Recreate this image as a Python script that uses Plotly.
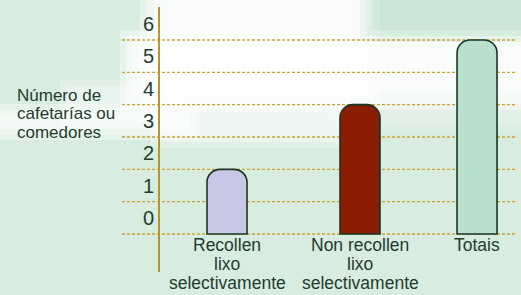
import plotly.graph_objects as go

# ---- data ----
categories = ["Recollen<br>lixo<br>selectivamente",
              "Non recollen<br>lixo<br>selectivamente",
              "Totais"]
values = [2, 4, 6]
bar_colors = ["#C8C8E6", "#8A1C02", "#B8E0CC"]
y_ticks = [0, 1, 2, 3, 4, 5, 6]
y_tick_labels = ["0", "1", "2", "3", "4", "5", "6"]
y_title = "Número de<br>cafetarías ou<br>comedores"

# ---- layout constants ----
W, H = 521, 295
L, R, T, B = 160, 4, 7, 23
PW, PH = W - L - R, H - T - B
slot = [0, 1.0, 1.88]          # horizontal slot of each bar (uneven spacing as in original)
unit = 133.0                   # px per slot unit
x_range = [-67 / unit, (PW - 67) / unit]
y_range = [-1.175, 7.02]

TXT = "#1F3D2E"
GOLD = "#C9A238"
FONT = "Liberation Sans, Arial, sans-serif"


def px(x):
    return (x - L) / PW


def py(y):
    return (H - B - y) / PH


fig = go.Figure()
fig.add_trace(go.Bar(
    x=slot, y=values,
    width=40 / unit,
    marker=dict(color=bar_colors, line=dict(color="#173626", width=1.6),
                cornerradius=13),
    hoverinfo="skip",
))

shapes = []


def soft(x0, y0, x1, y1, op, steps=4, inset=8, color="white"):
    for k in range(steps):
        d = inset * k
        shapes.append(dict(type="rect", xref="paper", yref="paper",
                           x0=px(x0 + d), x1=px(x1 - d), y0=py(y1 - d), y1=py(y0 + d),
                           fillcolor=color, opacity=op, line=dict(width=0),
                           layer="below"))


# background clouds
soft(140, -30, 380, 112, 0.4, steps=4, inset=7)      # top-centre white
soft(120, 30, 560, 110, 0.4, steps=4, inset=6)       # white band
soft(-40, 104, 200, 140, 0.3, steps=3, inset=5)      # left streak
soft(60, 80, 190, 128, 0.25, steps=2, inset=6)
soft(150, 96, 350, 148, 0.25, steps=3, inset=6)      # fade under band
soft(330, 96, 560, 130, 0.15, steps=2, inset=5)
soft(360, -20, 560, 42, 0.2, steps=3, inset=6, color="#BFE0CD")  # green cloud top right

# dotted grid lines, extending left past the axis line
for v in y_ticks:
    shapes.append(dict(type="line", xref="paper", yref="y",
                       x0=px(122), x1=px(517), y0=v, y1=v,
                       line=dict(color=GOLD, width=1.3, dash="3px,2px"),
                       layer="below"))

annotations = []
# y-axis title, one annotation per line
for j, line in enumerate(y_title.split("<br>")):
    annotations.append(dict(text=line, xref="paper", yref="paper",
                            x=px(15), y=py(95 + 18.5 * j), xanchor="left",
                            yanchor="middle", showarrow=False,
                            font=dict(size=17, color=TXT, family=FONT)))
# category labels under the baseline, one annotation per line
for xi, cat in zip(slot, categories):
    for j, line in enumerate(cat.split("<br>")):
        annotations.append(dict(text=line, xref="x", yref="y", x=xi, y=0,
                                yshift=-(11 + 19 * j), xanchor="center",
                                yanchor="middle", showarrow=False,
                                font=dict(size=17.5, color=TXT, family=FONT)))

fig.update_layout(
    width=W, height=H,
    margin=dict(l=L, r=R, t=T, b=B),
    paper_bgcolor="#D9ECE0",
    plot_bgcolor="rgba(0,0,0,0)",
    showlegend=False,
    shapes=shapes,
    annotations=annotations,
    font=dict(family=FONT, color=TXT),
    xaxis=dict(range=x_range, tickvals=slot, showticklabels=False,
               showgrid=False, zeroline=False, showline=False, ticks=""),
    yaxis=dict(range=y_range, tickvals=y_ticks, ticktext=y_tick_labels,
               showgrid=False, zeroline=False, showline=True,
               linecolor="#B8952C", linewidth=1.6, ticks="",
               ticklabelshift=-16,
               tickfont=dict(size=20, color=TXT)),
)

fig.write_html("out.html", config={"displayModeBar": False},
               post_script="document.body.style.margin='0';document.body.style.padding='0';")
